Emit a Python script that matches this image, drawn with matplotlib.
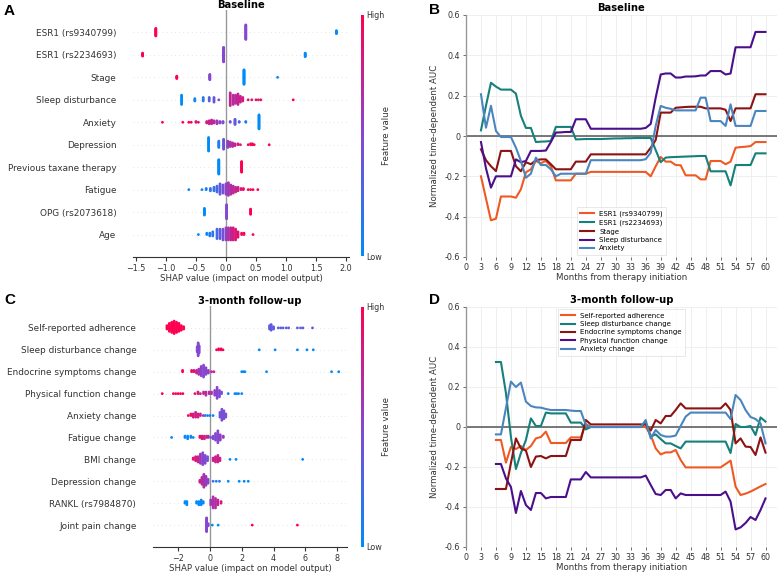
import numpy as np
import matplotlib
matplotlib.use('Agg')
import matplotlib.pyplot as plt
from matplotlib.colors import LinearSegmentedColormap
from matplotlib.cm import ScalarMappable

# ---------- panel A / C : SHAP summary data  (shap value, feature value 0..1, count) ----------
base_names = ['ESR1 (rs9340799)', 'ESR1 (rs2234693)', 'Stage', 'Sleep disturbance', 'Anxiety',
              'Depression', 'Previous taxane therapy', 'Fatigue', 'OPG (rs2073618)', 'Age']

a_esr1_9340799 = [(-1.17, 1.0, 14), (0.33, 0.5, 26), (1.84, 0.0, 6)]
a_esr1_2234693 = [(-1.39, 1.0, 6), (-0.04, 0.5, 26), (1.32, 0.0, 7)]
a_stage = [(-0.82, 1.0, 5), (-0.27, 0.5, 10), (0.30, 0.0, 26), (0.86, 0.0, 1)]
a_sleep = [(-0.74, 0.0, 9), (-0.52, 0.05, 3), (-0.38, 0.15, 4), (-0.28, 0.3, 4), (-0.2, 0.4, 5),
           (-0.12, 0.45, 1), (0.07, 0.75, 12), (0.12, 0.7, 9), (0.16, 0.7, 8), (0.2, 0.75, 10),
           (0.24, 0.8, 6), (0.28, 0.8, 4), (0.37, 0.9, 1), (0.43, 0.9, 1), (0.5, 0.9, 1),
           (0.54, 0.9, 1), (0.58, 0.95, 1), (1.12, 1.0, 1)]
a_anxiety = [(-1.06, 1.0, 1), (-0.72, 1.0, 1), (-0.62, 1.0, 1), (-0.58, 1.0, 1), (-0.5, 0.9, 2),
             (-0.46, 0.9, 1), (-0.32, 0.8, 3), (-0.28, 0.8, 5), (-0.24, 0.75, 6), (-0.2, 0.7, 4),
             (-0.15, 0.6, 5), (-0.1, 0.55, 3), (-0.05, 0.45, 3), (0.07, 0.45, 2), (0.15, 0.35, 8),
             (0.22, 0.3, 2), (0.33, 0.1, 2), (0.55, 0.0, 20)]
a_depression = [(-0.29, 0.0, 16), (-0.12, 0.1, 8), (-0.04, 0.4, 12), (0.03, 0.55, 8), (0.07, 0.65, 6),
                (0.11, 0.7, 5), (0.15, 0.75, 3), (0.2, 0.8, 2), (0.24, 0.85, 1), (0.37, 0.9, 1),
                (0.41, 0.95, 2), (0.44, 1.0, 2), (0.47, 1.0, 1), (0.72, 1.0, 1)]
a_taxane = [(-0.12, 0.0, 24), (0.26, 1.0, 18)]
a_fatigue = [(-0.62, 0.0, 1), (-0.4, 0.05, 1), (-0.33, 0.1, 2), (-0.26, 0.15, 3), (-0.2, 0.2, 4),
             (-0.15, 0.25, 6), (-0.1, 0.35, 10), (-0.05, 0.45, 8), (0.0, 0.55, 10), (0.04, 0.6, 12),
             (0.08, 0.7, 9), (0.12, 0.7, 7), (0.16, 0.75, 5), (0.2, 0.8, 4), (0.25, 0.85, 2),
             (0.29, 0.9, 2), (0.37, 0.95, 1), (0.41, 1.0, 1), (0.45, 1.0, 1), (0.53, 1.0, 1)]
a_opg = [(-0.36, 0.0, 10), (0.01, 0.5, 20), (0.41, 1.0, 8)]
a_age = [(-0.46, 0.0, 1), (-0.32, 0.05, 2), (-0.27, 0.1, 3), (-0.22, 0.15, 4), (-0.15, 0.25, 8),
         (-0.1, 0.35, 8), (-0.05, 0.45, 9), (0.0, 0.55, 10), (0.04, 0.65, 10), (0.08, 0.75, 10),
         (0.12, 0.8, 10), (0.16, 0.85, 9), (0.2, 0.9, 5), (0.26, 0.95, 2), (0.3, 1.0, 2), (0.45, 1.0, 1)]

follow_names = ['Self-reported adherence', 'Sleep disturbance change', 'Endocrine symptoms change',
                'Physical function change', 'Anxiety change', 'Fatigue change', 'BMI change',
                'Depression change', 'RANKL (rs7984870)', 'Joint pain change']

c_adherence = [(-2.7, 1.0, 4), (-2.55, 1.0, 8), (-2.4, 1.0, 10), (-2.25, 1.0, 12), (-2.1, 1.0, 10),
               (-1.95, 1.0, 8), (-1.8, 1.0, 5), (-1.65, 1.0, 3), (3.75, 0.35, 4), (3.85, 0.35, 6),
               (4.0, 0.35, 3), (4.3, 0.35, 1), (4.45, 0.35, 1), (4.6, 0.35, 1), (4.8, 0.35, 1),
               (4.95, 0.35, 1), (5.5, 0.35, 1), (5.7, 0.35, 1), (5.85, 0.35, 1), (6.45, 0.35, 1)]
c_sleep = [(-0.8, 0.45, 6), (-0.74, 0.5, 14), (-0.68, 0.5, 8), (0.42, 1.0, 1), (0.55, 1.0, 2),
           (0.7, 1.0, 2), (0.82, 1.0, 1), (3.1, 0.0, 1), (4.1, 0.0, 1), (5.5, 0.0, 1), (6.1, 0.0, 1),
           (6.5, 0.0, 1)]
c_endocrine = [(-1.72, 1.0, 2), (-1.15, 0.9, 2), (-1.0, 0.85, 2), (-0.84, 0.8, 3), (-0.7, 0.6, 5),
               (-0.55, 0.55, 8), (-0.4, 0.5, 10), (-0.25, 0.5, 6), (-0.1, 0.6, 3), (0.1, 0.75, 1),
               (0.25, 0.8, 1), (2.0, 0.0, 1), (2.1, 0.0, 1), (2.2, 0.0, 1), (3.56, 0.0, 1),
               (7.65, 0.0, 1), (8.1, 0.0, 1)]
c_physical = [(-3.0, 1.0, 1), (-2.3, 1.0, 1), (-2.15, 1.0, 1), (-2.0, 1.0, 1), (-1.85, 1.0, 1),
              (-1.7, 1.0, 1), (-0.94, 0.9, 1), (-0.75, 0.85, 2), (-0.6, 0.8, 1), (-0.4, 0.75, 2),
              (-0.25, 0.7, 3), (-0.05, 0.7, 2), (0.1, 0.65, 2), (0.3, 0.55, 4), (0.45, 0.5, 8),
              (0.6, 0.5, 5), (0.73, 0.45, 2), (1.15, 0.1, 1), (1.57, 0.0, 1), (1.68, 0.0, 1),
              (1.8, 0.0, 1), (2.0, 0.0, 1)]
c_anxiety = [(-1.36, 1.0, 1), (-1.2, 0.9, 2), (-1.05, 0.85, 3), (-0.9, 0.8, 4), (-0.75, 0.8, 3),
             (-0.6, 0.75, 2), (-0.42, 0.7, 1), (-0.3, 0.1, 1), (-0.15, 0.05, 1), (0.0, 0.05, 1),
             (0.2, 0.1, 1), (0.63, 0.4, 4), (0.75, 0.45, 8), (0.88, 0.45, 6), (1.0, 0.45, 3)]
c_fatigue = [(-2.41, 0.0, 1), (-1.57, 0.0, 2), (-1.4, 0.0, 3), (-1.2, 0.05, 2), (-1.05, 0.05, 1),
             (-0.63, 0.9, 2), (-0.5, 0.85, 3), (-0.35, 0.8, 3), (-0.2, 0.8, 2), (-0.1, 0.7, 2),
             (0.05, 0.3, 1), (0.2, 0.5, 3), (0.35, 0.5, 6), (0.5, 0.5, 10), (0.65, 0.55, 5),
             (0.84, 0.6, 2)]
c_bmi = [(-1.05, 0.9, 2), (-0.9, 0.85, 4), (-0.75, 0.8, 5), (-0.6, 0.6, 8), (-0.45, 0.5, 10),
         (-0.3, 0.5, 7), (-0.15, 0.45, 4), (0.2, 0.75, 3), (0.35, 0.8, 5), (0.5, 0.8, 6),
         (0.63, 0.75, 3), (1.26, 0.0, 1), (1.64, 0.0, 1), (5.83, 0.0, 1)]
c_depression = [(-0.63, 0.8, 3), (-0.5, 0.7, 8), (-0.38, 0.65, 14), (-0.25, 0.6, 10), (-0.12, 0.5, 5),
                (0.2, 0.2, 1), (0.4, 0.15, 1), (0.6, 0.1, 1), (1.15, 0.0, 1), (1.84, 0.0, 1),
                (2.15, 0.0, 1), (2.41, 0.0, 1)]
c_rankl = [(-1.57, 0.0, 2), (-1.45, 0.0, 3), (-0.84, 0.0, 2), (-0.7, 0.0, 3), (-0.55, 0.0, 4),
           (-0.42, 0.05, 2), (0.05, 0.6, 4), (0.2, 0.65, 8), (0.35, 0.7, 7), (0.5, 0.75, 4),
           (0.7, 0.85, 2)]
c_jointpain = [(-0.21, 0.5, 20), (-0.12, 0.5, 4), (0.15, 0.0, 1), (0.52, 0.0, 1), (2.66, 1.0, 1),
               (5.5, 1.0, 1)]

# ---------- panel B / D : normalized time-dependent AUC ----------
months_b = list(range(3, 61))
b_esr1_9340799 = [-0.20, -0.31, -0.418, -0.41, -0.30, -0.30, -0.30, -0.306, -0.264, -0.18, -0.165,
                  -0.124, -0.135, -0.124, -0.15, -0.22, -0.22, -0.22, -0.22, -0.187, -0.187, -0.187,
                  -0.178, -0.178, -0.178, -0.178, -0.178, -0.178, -0.178, -0.178, -0.178, -0.178,
                  -0.178, -0.178, -0.20, -0.15, -0.104, -0.127, -0.127, -0.144, -0.145, -0.195,
                  -0.195, -0.195, -0.215, -0.215, -0.124, -0.124, -0.124, -0.14, -0.127, -0.058,
                  -0.055, -0.053, -0.05, -0.03, -0.03, -0.03]
b_esr1_2234693 = [0.028, 0.15, 0.264, 0.245, 0.23, 0.23, 0.23, 0.21, 0.10, 0.04, 0.04, -0.03,
                  -0.028, -0.027, -0.025, 0.045, 0.045, 0.045, 0.045, -0.017, -0.016, -0.015,
                  -0.015, -0.015, -0.015, -0.014, -0.013, -0.012, -0.012, -0.011, -0.011, -0.01,
                  -0.01, -0.01, -0.01, -0.07, -0.13, -0.107, -0.105, -0.104, -0.103, -0.102,
                  -0.101, -0.10, -0.099, -0.099, -0.175, -0.175, -0.175, -0.175, -0.245, -0.144,
                  -0.144, -0.144, -0.144, -0.086, -0.086, -0.086]
b_stage = [-0.066, -0.12, -0.15, -0.174, -0.074, -0.074, -0.074, -0.15, -0.175, -0.13, -0.14,
           -0.12, -0.116, -0.116, -0.14, -0.165, -0.165, -0.165, -0.165, -0.127, -0.127, -0.127,
           -0.091, -0.091, -0.091, -0.091, -0.091, -0.091, -0.091, -0.091, -0.091, -0.091, -0.091,
           -0.091, -0.058, -0.02, 0.116, 0.116, 0.116, 0.14, 0.142, 0.144, 0.145, 0.145, 0.145,
           0.137, 0.137, 0.137, 0.137, 0.13, 0.074, 0.137, 0.137, 0.137, 0.137, 0.207, 0.207, 0.207]
b_sleep = [-0.03, -0.16, -0.256, -0.20, -0.20, -0.20, -0.20, -0.116, -0.13, -0.124, -0.074, -0.074,
           -0.074, -0.072, -0.03, 0.017, 0.018, 0.02, 0.02, 0.083, 0.083, 0.083, 0.036, 0.036,
           0.036, 0.036, 0.036, 0.036, 0.036, 0.036, 0.036, 0.036, 0.036, 0.04, 0.06, 0.19, 0.305,
           0.31, 0.31, 0.29, 0.29, 0.295, 0.295, 0.296, 0.30, 0.30, 0.322, 0.322, 0.322, 0.305,
           0.31, 0.44, 0.44, 0.44, 0.44, 0.516, 0.516, 0.516]
b_anxiety = [0.207, 0.041, 0.15, 0.025, -0.005, -0.005, -0.005, -0.058, -0.124, -0.207, -0.187,
             -0.107, -0.144, -0.144, -0.165, -0.20, -0.187, -0.187, -0.187, -0.187, -0.187, -0.187,
             -0.12, -0.12, -0.12, -0.12, -0.12, -0.12, -0.12, -0.12, -0.12, -0.12, -0.12, -0.115,
             -0.083, 0.05, 0.149, 0.14, 0.135, 0.127, 0.127, 0.127, 0.127, 0.127, 0.19, 0.19,
             0.074, 0.074, 0.074, 0.05, 0.157, 0.05, 0.05, 0.05, 0.05, 0.124, 0.124, 0.124]

months_d = list(range(6, 61))
d_adherence = [-0.065, -0.065, -0.178, -0.10, -0.11, -0.095, -0.115, -0.095, -0.057, -0.05, -0.023,
               -0.08, -0.08, -0.08, -0.08, -0.052, -0.052, -0.052, 0.015, 0.0, 0.0, 0.0, 0.0, 0.0,
               0.0, 0.0, 0.0, 0.0, 0.0, 0.0, 0.0, -0.04, -0.107, -0.137, -0.127, -0.127, -0.115,
               -0.165, -0.202, -0.202, -0.202, -0.202, -0.202, -0.202, -0.202, -0.202, -0.185,
               -0.168, -0.298, -0.34, -0.333, -0.323, -0.31, -0.297, -0.285]
d_sleep = [0.325, 0.325, 0.17, -0.05, -0.21, -0.13, -0.065, 0.043, 0.005, 0.005, 0.072, 0.068,
           0.068, 0.068, 0.068, 0.022, 0.022, 0.022, -0.012, 0.0, 0.0, 0.0, 0.0, 0.0, 0.0, 0.0,
           0.0, 0.0, 0.0, 0.0, 0.02, -0.048, -0.037, -0.06, -0.082, -0.082, -0.095, -0.107,
           -0.073, -0.073, -0.073, -0.073, -0.073, -0.073, -0.073, -0.073, -0.073, -0.13, 0.015,
           0.0, 0.0, 0.005, -0.04, 0.048, 0.027]
d_endocrine = [-0.31, -0.31, -0.31, -0.18, -0.057, -0.107, -0.118, -0.20, -0.148, -0.145, -0.157,
               -0.145, -0.145, -0.145, -0.145, -0.065, -0.065, -0.065, 0.035, 0.013, 0.013, 0.013,
               0.013, 0.013, 0.013, 0.013, 0.013, 0.013, 0.013, 0.013, 0.013, -0.018, 0.035, 0.018,
               0.055, 0.055, 0.085, 0.118, 0.093, 0.093, 0.093, 0.093, 0.093, 0.093, 0.093, 0.093,
               0.118, 0.085, -0.082, -0.057, -0.098, -0.10, -0.14, -0.052, -0.128]
d_physical = [-0.185, -0.185, -0.257, -0.30, -0.43, -0.32, -0.39, -0.415, -0.33, -0.33, -0.357,
              -0.35, -0.35, -0.35, -0.35, -0.262, -0.262, -0.262, -0.225, -0.252, -0.252, -0.252,
              -0.252, -0.252, -0.252, -0.252, -0.252, -0.252, -0.252, -0.252, -0.243, -0.29,
              -0.335, -0.34, -0.315, -0.315, -0.357, -0.332, -0.34, -0.34, -0.34, -0.34, -0.34,
              -0.34, -0.34, -0.34, -0.323, -0.373, -0.512, -0.502, -0.48, -0.45, -0.465, -0.415,
              -0.357]
d_anxiety = [-0.037, -0.037, 0.095, 0.227, 0.20, 0.222, 0.127, 0.105, 0.098, 0.097, 0.09, 0.085,
             0.085, 0.085, 0.085, 0.082, 0.08, 0.08, 0.01, 0.0, 0.0, 0.0, 0.0, 0.0, 0.0, 0.0, 0.0,
             0.0, 0.0, 0.0, 0.035, -0.057, -0.015, -0.04, -0.048, -0.048, -0.043, 0.005, 0.052,
             0.072, 0.072, 0.072, 0.072, 0.072, 0.072, 0.072, 0.072, 0.04, 0.16, 0.135, 0.085,
             0.05, 0.04, 0.018, -0.082]

line_colors = ['#ef5a23', '#16807a', '#8c1313', '#4b0f8c', '#4a86bd']

shap_cmap = LinearSegmentedColormap.from_list(
    'shap', [(0.0, 0.545, 0.984), (0.52, 0.28, 0.82), (1.0, 0.0, 0.318)])
axis_color = '#333333'


def beeswarm(ax, row, pts, nbins=100, row_height=0.4):
    xs = np.repeat([p[0] for p in pts], [p[2] for p in pts])
    cs = np.repeat([p[1] for p in pts], [p[2] for p in pts])
    quant = np.round(nbins * (xs - xs.min()) / (xs.max() - xs.min() + 1e-8))
    order = np.argsort(quant, kind='stable')
    ys = np.zeros(len(xs))
    layer, last = 0, -1
    for i in order:
        if quant[i] != last:
            layer = 0
        ys[i] = np.ceil(layer / 2) * ((layer % 2) * 2 - 1)
        layer += 1
        last = quant[i]
    ys *= 0.9 * (row_height / np.max(ys + 1))
    ax.scatter(xs, row + ys, c=cs, cmap=shap_cmap, vmin=0, vmax=1, s=4, linewidth=0, zorder=3)


def shap_panel(ax, cax, names, rows, xlim, xticks, title):
    n = len(names)
    for i, pts in enumerate(rows):
        y = n - 1 - i
        ax.axhline(y, color='#cccccc', lw=0.5, dashes=(1, 5), zorder=-1)
        beeswarm(ax, y, pts)
    ax.axvline(0, color='#999999', lw=1.0, zorder=-1)
    ax.set_ylim(-1, n)
    ax.set_xlim(*xlim)
    ax.set_xticks(xticks)
    ax.set_yticks(range(n))
    ax.set_yticklabels(names[::-1], fontsize=6.4)
    for s in ['left', 'right', 'top']:
        ax.spines[s].set_visible(False)
    ax.spines['bottom'].set_color(axis_color)
    ax.spines['bottom'].set_linewidth(0.8)
    ax.tick_params(color=axis_color, labelcolor=axis_color)
    ax.tick_params('y', length=0, pad=12)
    ax.tick_params('x', labelsize=5.8, length=3, width=0.8, pad=2)
    ax.set_xlabel('SHAP value (impact on model output)', fontsize=6.2, color=axis_color, labelpad=1)
    ax.set_title(title, fontsize=7.2, fontweight='bold', pad=1.5)
    sm = ScalarMappable(cmap=shap_cmap)
    sm.set_array([0, 1])
    cb = plt.colorbar(sm, cax=cax, ticks=[0, 1])
    cb.set_ticklabels(['Low', 'High'])
    cb.ax.tick_params(labelsize=5.8, length=0, pad=1.5, labelcolor=axis_color)
    cb.outline.set_visible(False)
    cb.set_label('Feature value', fontsize=6.2, color=axis_color, labelpad=-2)


def auc_panel(ax, months, series, names, title, loc):
    for vals, name, col in zip(series, names, line_colors):
        ax.plot(months, vals, color=col, lw=1.5, label=name, zorder=3)
    ax.axhline(0, color='#555555', lw=1.1, zorder=2)
    ax.set_xlim(0, 62.3)
    ax.set_ylim(-0.6, 0.6)
    ax.set_xticks(range(0, 61, 3))
    ax.set_yticks([-0.6, -0.4, -0.2, 0, 0.2, 0.4, 0.6])
    ax.set_yticklabels(['-0.6', '-0.4', '-0.2', '0', '0.2', '0.4', '0.6'])
    ax.grid(color='#ececec', lw=0.6)
    ax.set_axisbelow(True)
    for s in ['right', 'top', 'bottom']:
        ax.spines[s].set_visible(False)
    ax.spines['left'].set_color('#999999')
    ax.spines['left'].set_linewidth(1.0)
    ax.tick_params(labelsize=5.8, length=2.5, width=0.6, color='#555555', labelcolor='#333333', pad=1.5)
    ax.set_xlabel('Months from therapy initiation', fontsize=6.2, color='#333333', labelpad=1)
    ax.set_ylabel('Normalized time-dependent AUC', fontsize=6.2, color='#333333', labelpad=4)
    ax.set_title(title, fontsize=7.2, fontweight='bold', pad=3)
    leg = ax.legend(loc=loc, fontsize=5, handlelength=1.9, frameon=True, borderpad=0.5,
                    labelspacing=0.35, fancybox=False, borderaxespad=0.3, handletextpad=0.8)
    leg.get_frame().set_edgecolor('#dddddd')
    leg.get_frame().set_linewidth(0.6)


fig = plt.figure(figsize=(7.8, 5.73), dpi=100)
W, H = 780.0, 573.0


def box(x0, y0, x1, y1):
    return [x0 / W, 1 - y1 / H, (x1 - x0) / W, (y1 - y0) / H]


ax_a = fig.add_axes(box(133, 10, 349, 257))
cax_a = fig.add_axes(box(361, 15, 364, 256))
ax_b = fig.add_axes(box(466, 15, 777, 257))
ax_c = fig.add_axes(box(153, 306, 347, 547))
cax_c = fig.add_axes(box(361, 307, 364, 547))
ax_d = fig.add_axes(box(466, 307, 777, 547))

shap_panel(ax_a, cax_a, base_names,
           [a_esr1_9340799, a_esr1_2234693, a_stage, a_sleep, a_anxiety, a_depression,
            a_taxane, a_fatigue, a_opg, a_age],
           (-1.55, 2.05), [-1.5, -1.0, -0.5, 0.0, 0.5, 1.0, 1.5, 2.0], 'Baseline')
shap_panel(ax_c, cax_c, follow_names,
           [c_adherence, c_sleep, c_endocrine, c_physical, c_anxiety, c_fatigue, c_bmi,
            c_depression, c_rankl, c_jointpain],
           (-3.58, 8.62), [-2, 0, 2, 4, 6, 8], '3-month follow-up')

auc_panel(ax_b, months_b, [b_esr1_9340799, b_esr1_2234693, b_stage, b_sleep, b_anxiety],
          ['ESR1 (rs9340799)', 'ESR1 (rs2234693)', 'Stage', 'Sleep disturbance', 'Anxiety'],
          'Baseline', 'lower center')
auc_panel(ax_d, months_d, [d_adherence, d_sleep, d_endocrine, d_physical, d_anxiety],
          ['Self-reported adherence', 'Sleep disturbance change', 'Endocrine symptoms change',
           'Physical function change', 'Anxiety change'],
          '3-month follow-up', 'upper center')

for letter, x, y in [('A', 4, 11), ('B', 429, 10), ('C', 4, 300), ('D', 429, 300)]:
    fig.text(x / W, 1 - y / H, letter, fontsize=11, fontweight='bold', va='center', ha='left',
             family='Liberation Sans')

fig.savefig('out.png', dpi=100)
